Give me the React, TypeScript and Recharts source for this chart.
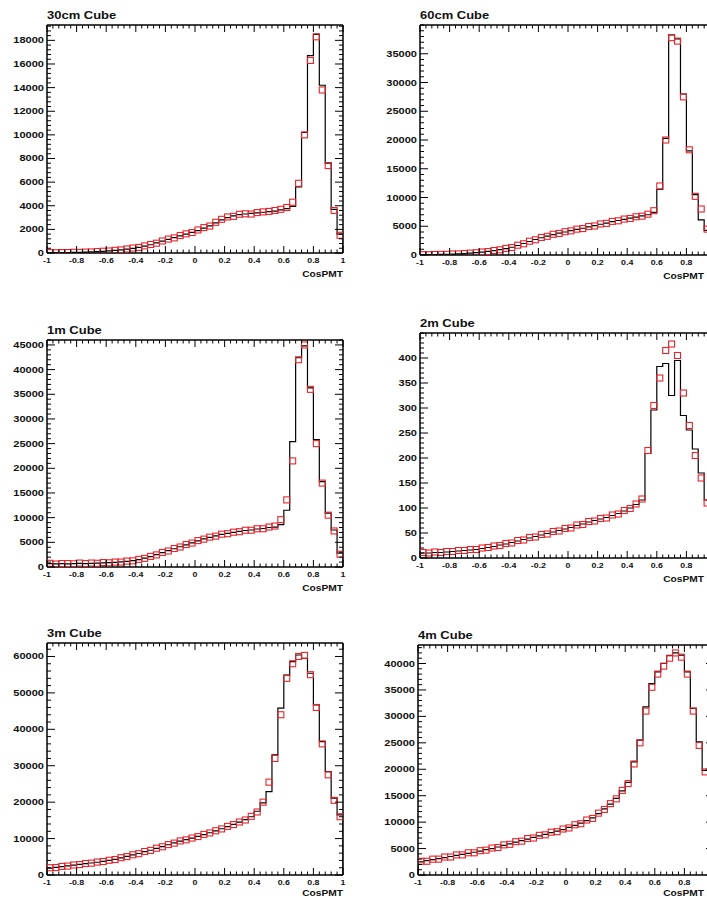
import React from "react";
import { ComposedChart, Line, Scatter, XAxis, YAxis } from "recharts";

const FONT = '"Liberation Sans", Arial, Helvetica, sans-serif';
const PAGE_W = 707;
const PAGE_H = 899;

// CosPMT is binned in 50 bins of 0.04 over [-1, 1]
const nBins = 50;
const binWidth = 0.04;

const xMajorTicks = [-1, -0.8, -0.6, -0.4, -0.2, 0, 0.2, 0.4, 0.6, 0.8, 1];
const xTickLabels = ["-1", "-0.8", "-0.6", "-0.4", "-0.2", "0", "0.2", "0.4", "0.6", "0.8", "1"];

// simulated counts (black histogram) and measured counts (red markers), per cube size
const hist30cm = [
  20, 30, 30, 40, 50, 60, 70, 90, 110, 140,
  180, 220, 270, 330, 400, 480, 580, 700, 850, 1000,
  1150, 1300, 1450, 1600, 1750, 1900, 2100, 2300, 2550, 2800,
  3000, 3150, 3250, 3300, 3350, 3400, 3450, 3500, 3550, 3650,
  3750, 3950, 5600, 10200, 16700, 18500, 14200, 7600, 3700, 1600,
];
const marks30cm = [
  30, 20, 40, 40, 60, 50, 80, 90, 120, 150,
  170, 230, 260, 340, 420, 470, 600, 720, 830, 1020,
  1180, 1280, 1480, 1620, 1730, 1950, 2150, 2280, 2600, 2850,
  3050, 3100, 3280, 3320, 3300, 3420, 3480, 3520, 3600, 3700,
  3850, 4300, 5900, 10000, 16300, 18300, 13800, 7400, 3600, 1500,
];

const hist60cm = [
  50, 60, 80, 100, 130, 160, 200, 250, 320, 400,
  500, 620, 760, 920, 1100, 1350, 1650, 2000, 2350, 2700,
  3000, 3300, 3550, 3800, 4000, 4250, 4450, 4650, 4900, 5100,
  5350, 5550, 5800, 6000, 6200, 6400, 6600, 6800, 7000, 7400,
  11400, 20300, 38300, 37600, 28000, 18100, 10500, 6100, 4300, 3000,
];
const marks60cm = [
  60, 50, 90, 110, 120, 170, 190, 260, 330, 390,
  520, 600, 780, 900, 1150, 1300, 1700, 1950, 2400, 2650,
  3050, 3250, 3600, 3750, 4050, 4200, 4500, 4600, 4950, 5050,
  5400, 5500, 5850, 5950, 6250, 6350, 6650, 6750, 7100, 7700,
  12000, 20000, 37800, 37200, 27500, 18300, 10200, 8000, 4500, 2800,
];

const hist1m = [
  700, 650, 700, 650, 700, 750, 700, 750, 800, 850,
  900, 950, 1050, 1150, 1300, 1500, 1800, 2100, 2500, 2900,
  3300, 3700, 4100, 4500, 4900, 5300, 5700, 6000, 6300, 6600,
  6800, 7000, 7200, 7400, 7500, 7700, 7800, 8000, 8100, 8600,
  11500, 25400, 42400, 44800, 36300, 25800, 17300, 10900, 7500, 2800,
];
const marks1m = [
  750, 600, 700, 700, 650, 800, 700, 800, 750, 900,
  850, 1000, 1000, 1200, 1250, 1550, 1750, 2150, 2450, 2950,
  3250, 3750, 4050, 4550, 4850, 5350, 5650, 6050, 6250, 6650,
  6750, 7050, 7150, 7450, 7450, 7750, 7750, 8100, 8300, 9600,
  13600, 21500, 42000, 45000, 36000, 25000, 17000, 10500, 7300, 2600,
];

const hist2m = [
  10, 10, 11, 11, 12, 13, 14, 15, 16, 17,
  19, 21, 23, 26, 28, 31, 34, 37, 40, 43,
  46, 49, 52, 55, 58, 61, 65, 68, 72, 75,
  78, 81, 85, 89, 94, 100, 107, 116, 209, 296,
  383, 389, 325, 395, 285, 256, 218, 170, 116, 80,
];
const marks2m = [
  11, 10, 12, 11, 13, 13, 15, 15, 17, 17,
  20, 21, 24, 25, 29, 30, 35, 36, 41, 42,
  47, 48, 53, 54, 59, 60, 66, 67, 73, 74,
  79, 80, 86, 88, 95, 99, 108, 118, 215, 305,
  360, 415, 428, 405, 330, 265, 205, 160, 110, 75,
];

const hist3m = [
  1900, 2100, 2300, 2500, 2700, 2900, 3100, 3300, 3500, 3750,
  4000, 4300, 4700, 5100, 5500, 5900, 6400, 6800, 7300, 7800,
  8300, 8800, 9300, 9700, 10100, 10600, 11100, 11600, 12100, 12700,
  13300, 13900, 14500, 15200, 16000, 17500, 19800, 22900, 33000, 45800,
  54900, 58600, 60400, 59500, 55400, 46700, 36600, 28400, 21100, 16500,
];
const marks3m = [
  2000, 2050, 2350, 2450, 2750, 2850, 3150, 3250, 3550, 3700,
  4050, 4250, 4750, 5050, 5550, 5850, 6450, 6750, 7350, 7750,
  8350, 8750, 9350, 9650, 10150, 10550, 11150, 11550, 12150, 12650,
  13350, 13850, 14550, 15100, 16100, 17300, 20000, 25500, 32000, 44000,
  54000, 58000, 60000, 60300, 55000, 46000, 36000, 27500, 20500, 16000,
];

const hist4m = [
  2500, 2700, 2900, 3100, 3300, 3500, 3700, 3900, 4100, 4300,
  4500, 4800, 5000, 5300, 5600, 5900, 6200, 6500, 6800, 7100,
  7400, 7700, 8000, 8300, 8600, 9000, 9400, 9800, 10300, 10800,
  11600, 12500, 13400, 14500, 15900, 17500, 21400, 25500, 31800, 36200,
  38400, 40000, 41500, 42000, 41600, 38400, 31500, 25200, 19800, 15000,
];
const marks4m = [
  2600, 2600, 3000, 3000, 3400, 3400, 3800, 3800, 4200, 4200,
  4600, 4700, 5100, 5200, 5700, 5800, 6300, 6400, 6900, 7000,
  7500, 7600, 8100, 8200, 8700, 8900, 9500, 9700, 10400, 10700,
  11700, 12400, 13500, 14400, 16000, 17300, 21000, 25000, 31000, 35500,
  38000, 39500, 41000, 42000, 41200, 38000, 31000, 24500, 19500, 14500,
];

const yTicks30cm = [0, 2000, 4000, 6000, 8000, 10000, 12000, 14000, 16000, 18000];
const yTicks60cm = [0, 5000, 10000, 15000, 20000, 25000, 30000, 35000];
const yTicks1m = [0, 5000, 10000, 15000, 20000, 25000, 30000, 35000, 40000, 45000];
const yTicks2m = [0, 50, 100, 150, 200, 250, 300, 350, 400];
const yTicks3m = [0, 10000, 20000, 30000, 40000, 50000, 60000];
const yTicks4m = [0, 5000, 10000, 15000, 20000, 25000, 30000, 35000, 40000];

type Panel = {
  title: string;
  hist: number[];
  marks: number[];
  yTicks: number[];
  yMax: number;
  // frame box on the page
  x: number;
  y: number;
  h: number;
};

const FRAME_W = 296;
const CHART_PAD_L = 50;

const panels: Panel[] = [
  { title: "30cm Cube", hist: hist30cm, marks: marks30cm, yTicks: yTicks30cm, yMax: 19300, x: 47, y: 25, h: 228 },
  { title: "60cm Cube", hist: hist60cm, marks: marks60cm, yTicks: yTicks60cm, yMax: 40000, x: 420, y: 25, h: 230 },
  { title: "1m Cube", hist: hist1m, marks: marks1m, yTicks: yTicks1m, yMax: 46000, x: 47, y: 340, h: 227 },
  { title: "2m Cube", hist: hist2m, marks: marks2m, yTicks: yTicks2m, yMax: 450, x: 420, y: 333, h: 225 },
  { title: "3m Cube", hist: hist3m, marks: marks3m, yTicks: yTicks3m, yMax: 63700, x: 47, y: 643, h: 232 },
  { title: "4m Cube", hist: hist4m, marks: marks4m, yTicks: yTicks4m, yMax: 43500, x: 418, y: 645, h: 230 },
];

const round = (v: number) => Math.round(v * 1e6) / 1e6;

// every 0.04 on x, majors every 0.2
const xAllTicks: number[] = [];
for (let k = 0; k <= nBins; k++) xAllTicks.push(round(-1 + k * binWidth));

function yAllTicks(p: Panel) {
  const step = (p.yTicks[1] - p.yTicks[0]) / 5;
  const out: number[] = [];
  for (let v = 0; v <= p.yMax + 1e-9; v += step) out.push(round(v));
  return out;
}

function histEdges(values: number[]) {
  const pts = [{ x: -1, y: 0 }];
  values.forEach((v, i) => pts.push({ x: round(-1 + i * binWidth), y: v }));
  pts.push({ x: 1, y: values[values.length - 1] });
  pts.push({ x: 1, y: 0 });
  return pts;
}

function binCenters(values: number[]) {
  return values.map((v, i) => ({ x: round(-1 + (i + 0.5) * binWidth), y: v }));
}

const labelStyle = { fontFamily: FONT, fontWeight: 700, fill: "#111" } as const;

function makeXTick(side: "bottom" | "top", chartLeft: number) {
  return (props: any) => {
    const { x, y, payload } = props;
    const v = payload.value as number;
    const idx = xMajorTicks.findIndex((t) => Math.abs(t - v) < 1e-6);
    const len = idx >= 0 ? 7 : 3.5;
    const dir = side === "bottom" ? -1 : 1;
    // labels that would run past the page edge are left out
    const fits = chartLeft + x + 8 <= PAGE_W;
    return (
      <g>
        <line x1={x} y1={y} x2={x} y2={y + dir * len} stroke="#000" strokeWidth={1} />
        {side === "bottom" && idx >= 0 && fits && (
          <text transform={`translate(${x},${y + 10}) scale(1.1,1)`} textAnchor="middle" fontSize={8} {...labelStyle}>
            {xTickLabels[idx]}
          </text>
        )}
      </g>
    );
  };
}

function makeYTick(side: "left" | "right", majors: number[]) {
  return (props: any) => {
    const { x, y, payload } = props;
    const v = payload.value as number;
    const major = majors.some((t) => Math.abs(t - v) < 1e-6);
    const len = major ? 8 : 4;
    const dir = side === "left" ? 1 : -1;
    return (
      <g>
        <line x1={x} y1={y} x2={x + dir * len} y2={y} stroke="#000" strokeWidth={1} />
        {side === "left" && major && (
          <text transform={`translate(${x - 3},${y + 3}) scale(1.3,1)`} textAnchor="end" fontSize={8.5} {...labelStyle}>
            {String(v)}
          </text>
        )}
      </g>
    );
  };
}

const OpenSquare = (props: any) => {
  const { cx, cy } = props;
  if (cx == null || cy == null) return null;
  return <rect x={cx - 3} y={cy - 3} width={6} height={6} fill="none" stroke="#e3262e" strokeWidth={1.1} />;
};

function CubePanel({ p }: { p: Panel }) {
  const chartW = FRAME_W + 70;
  const chartH = p.h + 55;
  const chartLeft = p.x - CHART_PAD_L;
  const yTicks = yAllTicks(p);
  const axisTitleRight = Math.min(p.x + FRAME_W, PAGE_W - 3);
  const axisTitleTop = Math.min(p.y + p.h + 16, PAGE_H - 11);
  return (
    <>
      <div
        style={{
          position: "absolute",
          left: p.x,
          top: p.y - 16,
          fontFamily: FONT,
          fontWeight: 700,
          fontSize: 11,
          lineHeight: "13px",
          transform: "scaleX(1.18)",
          transformOrigin: "left top",
          color: "#111",
          whiteSpace: "nowrap",
        }}
      >
        {p.title}
      </div>
      <div style={{ position: "absolute", left: chartLeft, top: p.y - 30 }}>
        <ComposedChart
          width={chartW}
          height={chartH}
          data={histEdges(p.hist)}
          margin={{ top: 29, right: 19, bottom: 10, left: 0 }}
        >
          <XAxis
            xAxisId="b"
            dataKey="x"
            type="number"
            domain={[-1, 1]}
            ticks={xAllTicks}
            interval={0}
            height={15}
            tickSize={0}
            tickMargin={0}
            tick={makeXTick("bottom", chartLeft)}
            axisLine={{ stroke: "#000", strokeWidth: 1.5 }}
            tickLine={false}
            allowDataOverflow
          />
          <XAxis
            xAxisId="t"
            orientation="top"
            dataKey="x"
            type="number"
            domain={[-1, 1]}
            ticks={xAllTicks}
            interval={0}
            height={1}
            tickSize={0}
            tickMargin={0}
            tick={makeXTick("top", chartLeft)}
            axisLine={{ stroke: "#000", strokeWidth: 1.5 }}
            tickLine={false}
            allowDataOverflow
          />
          <YAxis
            yAxisId="l"
            type="number"
            domain={[0, p.yMax]}
            ticks={yTicks}
            interval={0}
            width={CHART_PAD_L}
            tickSize={0}
            tickMargin={0}
            tick={makeYTick("left", p.yTicks)}
            axisLine={{ stroke: "#000", strokeWidth: 1.5 }}
            tickLine={false}
            allowDataOverflow
          />
          <YAxis
            yAxisId="r"
            orientation="right"
            type="number"
            domain={[0, p.yMax]}
            ticks={yTicks}
            interval={0}
            width={1}
            tickSize={0}
            tickMargin={0}
            tick={makeYTick("right", p.yTicks)}
            axisLine={{ stroke: "#000", strokeWidth: 1.5 }}
            tickLine={false}
            allowDataOverflow
          />
          <Scatter
            xAxisId="b"
            yAxisId="l"
            data={binCenters(p.marks)}
            dataKey="y"
            shape={OpenSquare}
            isAnimationActive={false}
          />
          <Line
            xAxisId="b"
            yAxisId="l"
            dataKey="y"
            type="stepAfter"
            stroke="#000"
            strokeWidth={1.2}
            dot={false}
            isAnimationActive={false}
          />
        </ComposedChart>
      </div>
      <div
        style={{
          position: "absolute",
          left: axisTitleRight - 60,
          width: 60,
          top: axisTitleTop,
          textAlign: "right",
          fontFamily: FONT,
          fontWeight: 700,
          fontSize: 8.5,
          lineHeight: "10px",
          transform: "scaleX(1.2)",
          transformOrigin: "right top",
          color: "#111",
        }}
      >
        CosPMT
      </div>
    </>
  );
}

export default function App() {
  return (
    <div
      style={{
        position: "absolute",
        left: 0,
        top: 0,
        width: PAGE_W,
        height: PAGE_H,
        overflow: "hidden",
        background: "#fff",
      }}
    >
      {panels.map((p) => (
        <CubePanel key={p.title} p={p} />
      ))}
    </div>
  );
}
